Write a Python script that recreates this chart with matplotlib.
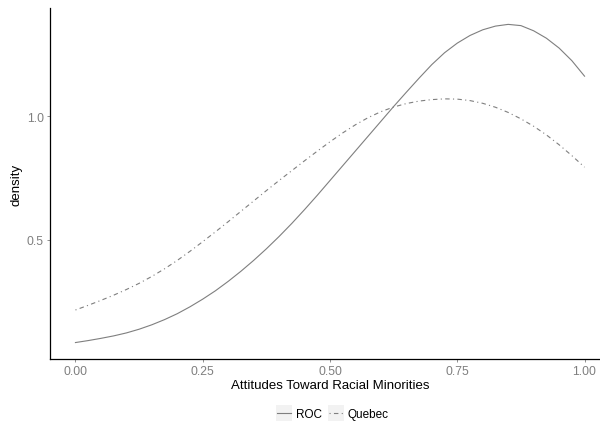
import matplotlib

matplotlib.use("Agg")
import matplotlib.pyplot as plt
from matplotlib.legend_handler import HandlerLine2D
from matplotlib.patches import Rectangle

plt.rcParams["font.family"] = ["Liberation Sans", "DejaVu Sans"]

# density curves, every 0.025
x_vals = [0.000, 0.025, 0.050, 0.075, 0.100, 0.125, 0.150, 0.175, 0.200,
          0.225, 0.250, 0.275, 0.300, 0.325, 0.350, 0.375, 0.400, 0.425,
          0.450, 0.475, 0.500, 0.525, 0.550, 0.575, 0.600, 0.625, 0.650,
          0.675, 0.700, 0.725, 0.750, 0.775, 0.800, 0.825, 0.850, 0.875,
          0.900, 0.925, 0.950, 0.975, 1.000]
roc = [0.083, 0.091, 0.100, 0.110, 0.122, 0.137, 0.155, 0.176, 0.200,
       0.228, 0.259, 0.293, 0.331, 0.372, 0.416, 0.463, 0.513, 0.566,
       0.622, 0.680, 0.740, 0.800, 0.860, 0.920, 0.980, 1.040, 1.098,
       1.155, 1.210, 1.258, 1.297, 1.328, 1.351, 1.366, 1.373, 1.368,
       1.347, 1.317, 1.277, 1.226, 1.163]
quebec = [0.215, 0.234, 0.254, 0.275, 0.298, 0.323, 0.351, 0.382, 0.416,
          0.453, 0.492, 0.532, 0.573, 0.615, 0.657, 0.699, 0.740, 0.780,
          0.820, 0.859, 0.897, 0.933, 0.966, 0.995, 1.019, 1.038, 1.052,
          1.062, 1.068, 1.071, 1.070, 1.064, 1.053, 1.037, 1.016, 0.990,
          0.960, 0.925, 0.885, 0.841, 0.794]
x_ticks = [0.00, 0.25, 0.50, 0.75, 1.00]
x_tick_labels = ["0.00", "0.25", "0.50", "0.75", "1.00"]
y_ticks = [0.5, 1.0]
y_tick_labels = ["0.5", "1.0"]

GREY = "#7f7f7f"


class KeyHandler(HandlerLine2D):
    # ggplot-style legend key: light grey square behind the line sample
    def create_artists(self, legend, orig, xdescent, ydescent, width, height,
                       fontsize, trans):
        side = height * 2.0
        bg = Rectangle((-xdescent + (width - side) / 2,
                        -ydescent + (height - side) / 2), side, side,
                       facecolor="#f2f2f2", edgecolor="none",
                       transform=trans)
        arts = super().create_artists(legend, orig, xdescent, ydescent,
                                      width, height, fontsize, trans)
        return [bg] + arts


fig = plt.figure(figsize=(6.0, 4.27), dpi=100)
ax = fig.add_axes([50 / 600, 67 / 427, 560 / 600, 351 / 427])

ax.plot(x_vals, roc, color=GREY, lw=0.8, ls="-", label="ROC")
ax.plot(x_vals, quebec, color=GREY, lw=0.8, ls=(0, (1, 3, 4, 3)),
        label="Quebec")

ax.set_xlim(-0.05, 1.05)
ax.set_ylim(0.0163, 1.4394)
ax.set_xticks(x_ticks, x_tick_labels)
ax.set_yticks(y_ticks, y_tick_labels)
ax.tick_params(colors=GREY, labelcolor=GREY, labelsize=8.8, length=2.5,
               width=0.6, pad=2)
for s in ("top", "right"):
    ax.spines[s].set_visible(False)
for s in ("left", "bottom"):
    ax.spines[s].set_linewidth(0.9)
    ax.spines[s].set_color("black")
ax.set_xlabel("Attitudes Toward Racial Minorities", fontsize=9.5,
              labelpad=1)
ax.set_ylabel("density", fontsize=9.5, labelpad=3)

h, l = ax.get_legend_handles_labels()
fig.legend(h, l, loc="center", bbox_to_anchor=(333 / 600, 1 - 415 / 427),
           ncol=2, frameon=False, fontsize=8.5, handlelength=1.2,
           handletextpad=0.4, columnspacing=0.6,
           handler_map={h[0]: KeyHandler(), h[1]: KeyHandler()})

fig.savefig("out.png", dpi=100)
